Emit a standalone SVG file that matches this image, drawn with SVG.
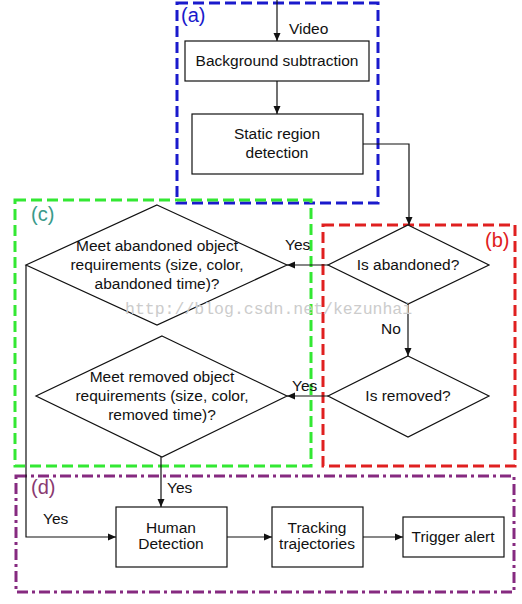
<svg xmlns="http://www.w3.org/2000/svg" width="522" height="604" viewBox="0 0 522 604">
<style>
text{font-family:"Liberation Sans",Arial,sans-serif;font-size:15.5px;fill:#111;text-anchor:middle}
.lbl{text-anchor:start}
.grp{font-size:20px;text-anchor:start}
.shape{fill:#fff;stroke:#111;stroke-width:1.2}
.conn{fill:none;stroke:#111;stroke-width:1.2}
.frame{fill:none;stroke-width:3}
.wm{font-family:"Liberation Mono","DejaVu Sans Mono",monospace;font-size:16.5px;fill:#cccccc;text-anchor:start}
</style>
<defs>
<marker id="ah" markerUnits="userSpaceOnUse" markerWidth="9" markerHeight="8" refX="8" refY="4" orient="auto">
<path d="M0,0.5 L8,4 L0,7.5 Z" fill="#111"/>
</marker>
</defs>
<rect width="522" height="604" fill="#fff"/>

<g id="frames">
<rect class="frame" x="177" y="3" width="201" height="200" stroke="#1a1acc" stroke-dasharray="11,5"/>
<rect class="frame" x="15" y="200" width="296" height="266" stroke="#33e833" stroke-dasharray="11,5"/>
<rect class="frame" x="323" y="225" width="192" height="241" stroke="#e02020" stroke-dasharray="11,5"/>
<rect class="frame" x="16" y="476" width="498" height="116" stroke="#862a80" stroke-dasharray="11,4,3,4"/>
<text class="grp" x="181" y="22" style="fill:#1a1acc">(a)</text>
<text class="grp" x="485" y="247" style="fill:#e02020">(b)</text>
<text class="grp" x="31" y="221" style="fill:#3a9a8a">(c)</text>
<text class="grp" x="31" y="494" style="fill:#8a3a70">(d)</text>
</g>

<g id="connectors">
<line class="conn" x1="277" y1="0" x2="277" y2="41" marker-end="url(#ah)"/>
<line class="conn" x1="277" y1="81" x2="277" y2="114" marker-end="url(#ah)"/>
<polyline class="conn" points="363,144 409,144 409,225" marker-end="url(#ah)"/>
<line class="conn" x1="328" y1="265" x2="287" y2="265" marker-end="url(#ah)"/>
<line class="conn" x1="408" y1="304" x2="408" y2="356" marker-end="url(#ah)"/>
<line class="conn" x1="328" y1="396" x2="287" y2="396" marker-end="url(#ah)"/>
<line class="conn" x1="161" y1="457" x2="161" y2="507" marker-end="url(#ah)"/>
<polyline class="conn" points="26,265 26,537 116,537" marker-end="url(#ah)"/>
<line class="conn" x1="227" y1="537" x2="272" y2="537" marker-end="url(#ah)"/>
<line class="conn" x1="363" y1="537" x2="403" y2="537" marker-end="url(#ah)"/>
<text class="lbl" x="289" y="34">Video</text>
<text class="lbl" x="285" y="250">Yes</text>
<text class="lbl" x="381" y="334">No</text>
<text class="lbl" x="292" y="391">Yes</text>
<text class="lbl" x="167" y="493">Yes</text>
<text class="lbl" x="43" y="524">Yes</text>
</g>

<g id="bg-sub">
<rect class="shape" x="185" y="41" width="184" height="40"/>
<text x="277" y="66">Background subtraction</text>
</g>
<g id="static-region">
<rect class="shape" x="192" y="114" width="171" height="60"/>
<text x="277" y="139">Static region</text>
<text x="277" y="158">detection</text>
</g>
<g id="is-abandoned">
<polygon class="shape" points="408,225 489,265 408,304 328,265"/>
<text x="408" y="270">Is abandoned?</text>
</g>
<g id="is-removed">
<polygon class="shape" points="408,356 489,396 408,437 328,396"/>
<text x="408" y="401">Is removed?</text>
</g>
<g id="meet-abandoned">
<polygon class="shape" points="157,205 287,265 157,325 26,265"/>
<text x="157" y="251">Meet abandoned object</text>
<text x="157" y="270">requirements (size, color,</text>
<text x="157" y="289">abandoned time)?</text>
</g>
<g id="meet-removed">
<polygon class="shape" points="162,336 287,396 162,457 36,396"/>
<text x="162" y="382">Meet removed object</text>
<text x="162" y="401">requirements (size, color,</text>
<text x="162" y="420">removed time)?</text>
</g>
<g id="human-detection">
<rect class="shape" x="116" y="507" width="111" height="60"/>
<text x="171" y="533">Human</text>
<text x="171" y="549">Detection</text>
</g>
<g id="tracking">
<rect class="shape" x="272" y="507" width="91" height="60"/>
<text x="317" y="533">Tracking</text>
<text x="317" y="549">trajectories</text>
</g>
<g id="trigger-alert">
<rect class="shape" x="403" y="517" width="101" height="40"/>
<text x="453" y="542">Trigger alert</text>
</g>

<text class="wm" x="125" y="314">http://blog.csdn.net/kezunhai</text>
</svg>
